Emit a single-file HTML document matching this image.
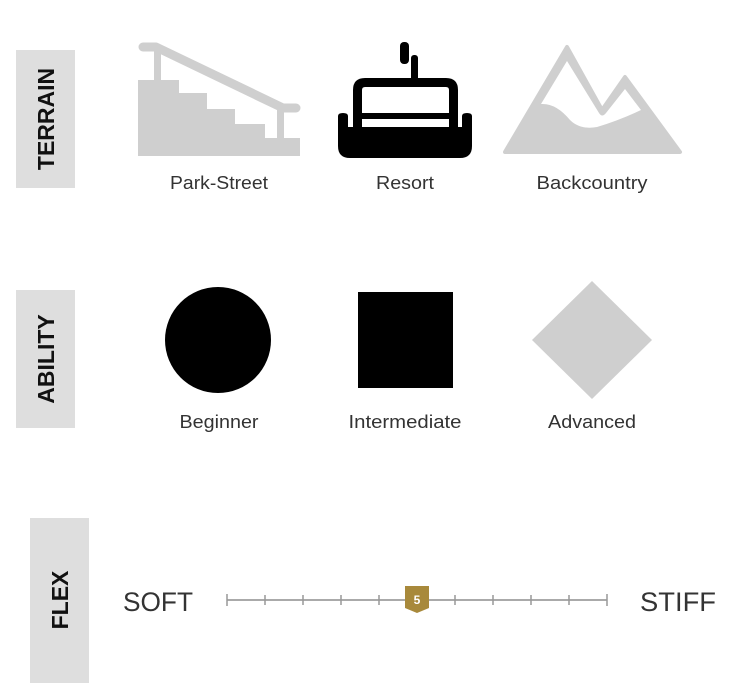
<!DOCTYPE html>
<html><head><meta charset="utf-8"><style>
html,body{margin:0;padding:0;background:#fff;width:750px;height:699px;overflow:hidden}
</style></head><body>
<svg width="750" height="699" viewBox="0 0 750 699" xmlns="http://www.w3.org/2000/svg" style="position:absolute;left:0;top:0">
<rect x="16" y="50" width="59" height="138" fill="#dedede"/>
<text transform="translate(54,119) rotate(-90)" text-anchor="middle" font-family="Liberation Sans, sans-serif" font-weight="bold" font-size="23" fill="#111">TERRAIN</text>
<rect x="16" y="290" width="59" height="138" fill="#dedede"/>
<text transform="translate(54,359) rotate(-90)" text-anchor="middle" font-family="Liberation Sans, sans-serif" font-weight="bold" font-size="23" fill="#111">ABILITY</text>
<rect x="30" y="518" width="59" height="165" fill="#dedede"/>
<text transform="translate(68,600) rotate(-90)" text-anchor="middle" font-family="Liberation Sans, sans-serif" font-weight="bold" font-size="23" fill="#111">FLEX</text>

<!-- stairs -->
<g fill="#cfcfcf">
<polygon points="138,80 179,80 179,93 207,93 207,109 235,109 235,124 265,124 265,138 300,138 300,156 138,156"/>
<rect x="154" y="47" width="7" height="35"/>
<rect x="277" y="108" width="7" height="32"/>
</g>
<path d="M143,47 H156 L283,108 H296" stroke="#cfcfcf" stroke-width="9" fill="none" stroke-linecap="round" stroke-linejoin="round"/>

<!-- chairlift -->
<g fill="#000">
<rect x="400" y="42" width="9" height="22" rx="4"/>
<rect x="411" y="55" width="7" height="26" rx="3"/>
<path d="M365,78 H446 Q458,78 458,90 V130 H449 V90 Q449,87 446,87 H365 Q362,87 362,90 V130 H353 V90 Q353,78 365,78 Z"/>
<rect x="353" y="113" width="105" height="6"/>
<path d="M338,116 Q338,113 343,113 Q348,113 348,116 V127 H462 V116 Q462,113 467,113 Q472,113 472,116 V146 Q472,158 460,158 H350 Q338,158 338,146 Z"/>
</g>

<!-- mountain -->
<polygon points="505,152 567,47 602,110 625,77 680,152" fill="#cfcfcf" stroke="#cfcfcf" stroke-width="4" stroke-linejoin="round"/>
<path d="M541,104 L567,61 L599,113 Q602,118 606,113 L625,89 L641,110 Q620,120 597,127 Q580,130 570,120 Q556,103 541,104 Z" fill="#fff"/>

<g font-family="Liberation Sans, sans-serif" font-size="18" fill="#333" text-anchor="middle">
<text x="219" y="189" textLength="98" lengthAdjust="spacingAndGlyphs">Park-Street</text>
<text x="405" y="189" textLength="58" lengthAdjust="spacingAndGlyphs">Resort</text>
<text x="592" y="189" textLength="111" lengthAdjust="spacingAndGlyphs">Backcountry</text>
<text x="219" y="428" textLength="79" lengthAdjust="spacingAndGlyphs">Beginner</text>
<text x="405" y="428" textLength="113" lengthAdjust="spacingAndGlyphs">Intermediate</text>
<text x="592" y="428" textLength="88" lengthAdjust="spacingAndGlyphs">Advanced</text>
</g>

<circle cx="218" cy="340" r="53" fill="#000"/>
<rect x="358" y="292" width="95" height="96" fill="#000"/>
<polygon points="592,281 652,340 592,399 532,340" fill="#cfcfcf"/>

<g font-family="Liberation Sans, sans-serif" font-size="27" fill="#333">
<text x="123" y="611" textLength="70" lengthAdjust="spacingAndGlyphs">SOFT</text>
<text x="640" y="611" textLength="76" lengthAdjust="spacingAndGlyphs">STIFF</text>
</g>
<line x1="227" y1="600" x2="607" y2="600" stroke="#aaa" stroke-width="2"/>
<g stroke="#999" stroke-width="1.5">
<line x1="227" y1="594" x2="227" y2="606"/>
<line x1="265" y1="595" x2="265" y2="605"/>
<line x1="303" y1="595" x2="303" y2="605"/>
<line x1="341" y1="595" x2="341" y2="605"/>
<line x1="379" y1="595" x2="379" y2="605"/>
<line x1="455" y1="595" x2="455" y2="605"/>
<line x1="493" y1="595" x2="493" y2="605"/>
<line x1="531" y1="595" x2="531" y2="605"/>
<line x1="569" y1="595" x2="569" y2="605"/>
<line x1="607" y1="594" x2="607" y2="606"/>
</g>
<polygon points="405,586 429,586 429,608 417,613 405,608" fill="#a8893b"/>
<text x="417" y="604" text-anchor="middle" font-family="Liberation Sans, sans-serif" font-weight="bold" font-size="12" fill="#fff">5</text>
</svg>
</body></html>
